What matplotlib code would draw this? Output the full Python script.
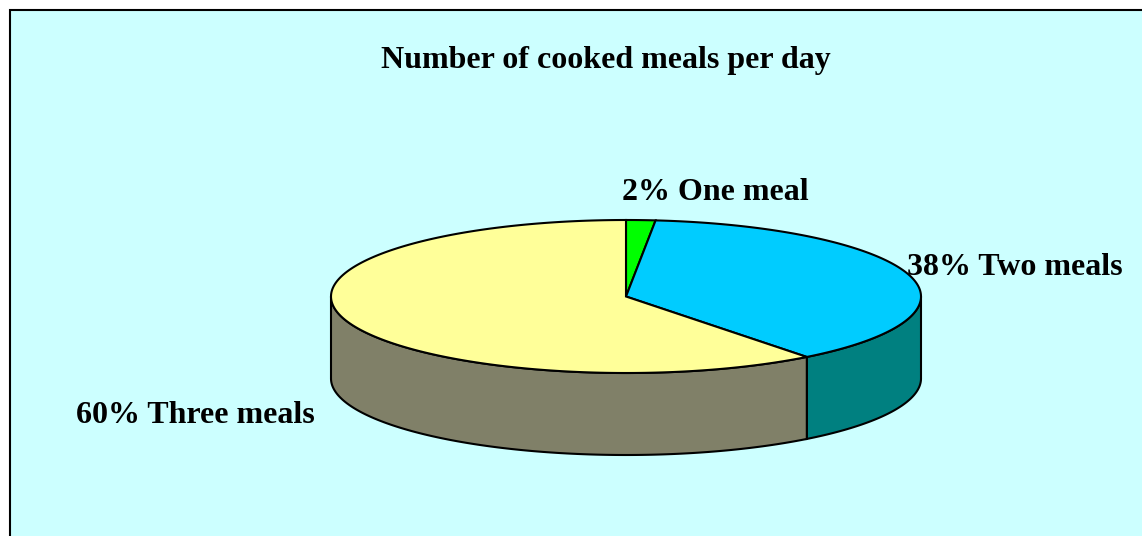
import numpy as np
import matplotlib
matplotlib.use("Agg")
import matplotlib.pyplot as plt
from matplotlib.patches import Polygon, Rectangle

# data (shares)
categories = ["One meal", "Two meals", "Three meals"]
shares = [1.6, 37.9, 60.5]
pct_labels = ["2%", "38%", "60%"]
top_colors = ["#00FF00", "#00CCFF", "#FFFF99"]
side_colors = ["#008000", "#008080", "#808068"]
title = "Number of cooked meals per day"

# layout of the 3d pie in pixels
cx, cy = 626, 296.5
rx, ry = 295, 76.5
depth = 82

fig = plt.figure(figsize=(11.42, 5.36), dpi=100)
fig.patch.set_facecolor("white")
ax = fig.add_axes([0, 0, 1, 1])
ax.set_xlim(0, 1142)
ax.set_ylim(536, 0)
ax.axis("off")

# chart area
ax.add_patch(Rectangle((9.5, 9.5), 1200, 600, facecolor="#CCFFFF",
                       edgecolor="black", linewidth=1.5, zorder=0))


def arc(t0, t1, dy=0, n=200):
    t = np.radians(np.linspace(t0, t1, n))
    return np.column_stack([cx + rx * np.cos(t), cy - ry * np.sin(t) + dy])


# slice angles, clockwise from the top
total = sum(shares)
angles = []
start = 90.0
for s in shares:
    end = start - 360.0 * s / total
    angles.append((start, end))
    start = end

# side walls (front half only)
for (a0, a1), col in zip(angles, side_colors):
    lo, hi = max(a1, -180.0), min(a0, 0.0)
    if hi <= lo:
        continue
    top = arc(hi, lo)
    bot = arc(lo, hi, dy=depth)
    ax.add_patch(Polygon(np.vstack([top, bot]), closed=True, facecolor=col,
                         edgecolor="black", linewidth=1.5, zorder=2))

# top faces
for (a0, a1), col in zip(angles, top_colors):
    pts = np.vstack([[cx, cy], arc(a0, a1)])
    ax.add_patch(Polygon(pts, closed=True, facecolor=col,
                         edgecolor="black", linewidth=1.5, zorder=3))

font = dict(family="Liberation Serif", fontweight="bold", fontsize=23)
ax.text(605.5, 68, title, ha="center", va="baseline", **font)

label_pos = [(622, 200, "left"), (907, 275, "left"), (76, 423, "left")]
for (x, y, ha), p, c in zip(label_pos, pct_labels, categories):
    ax.text(x, y, f"{p} {c}", ha=ha, va="baseline", zorder=5, **font)

fig.savefig("out.png", dpi=100, facecolor=fig.get_facecolor())
